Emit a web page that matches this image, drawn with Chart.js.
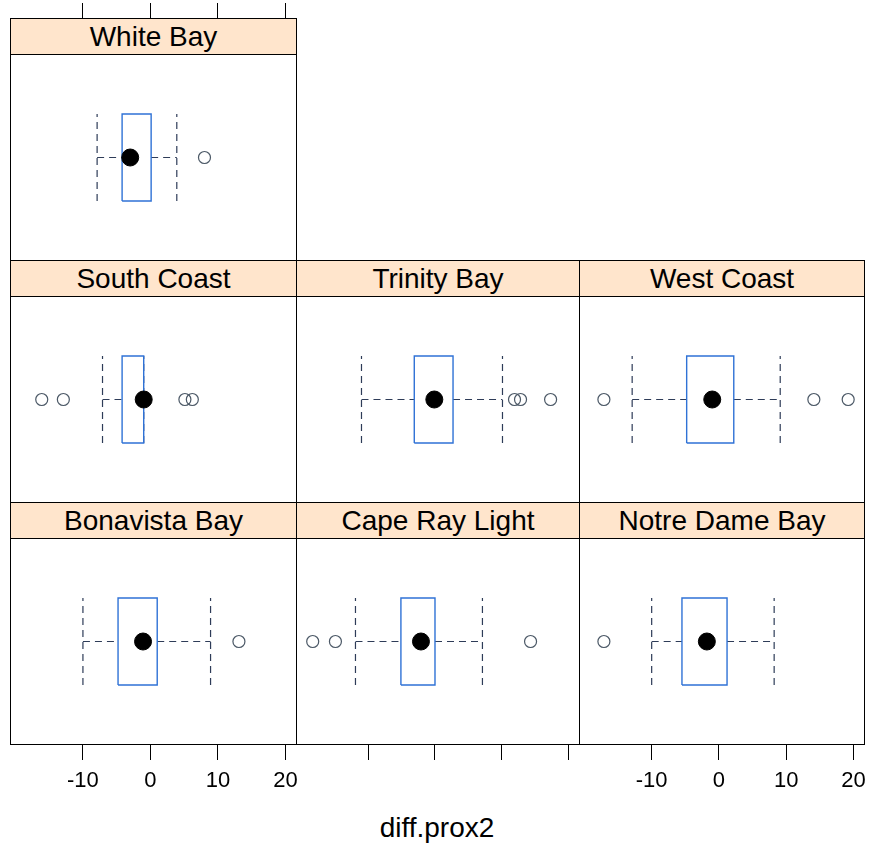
<!DOCTYPE html>
<html>
<head>
<meta charset="utf-8">
<script src="https://cdn.jsdelivr.net/npm/chart.js@4.4.1/dist/chart.umd.min.js"></script>
<style>
  body { margin: 0; background: #fff; }
  #wrap { position: relative; width: 869px; height: 846px; background: #fff; overflow: hidden; }
  canvas { position: absolute; }
  .strip {
    position: absolute; box-sizing: border-box; border: 1px solid #000;
    background: #ffe5cc; font: 28px "Liberation Sans", Arial, sans-serif;
    color: #000; display: flex; align-items: center; justify-content: center;
    line-height: 1;
  }
  #xlab { position: absolute; left: 0; width: 874px; top: 812px; text-align: center;
    font: 28px "Liberation Sans", Arial, sans-serif; color: #000; }
</style>
</head>
<body>
<div id="wrap"></div>
<script>
// data
const regions = ['White Bay', 'South Coast', 'Trinity Bay', 'West Coast', 'Bonavista Bay', 'Cape Ray Light', 'Notre Dame Bay'];
const whiskerLow  = [-7.9, -7.1, -11.0, -12.9, -10.0, -11.9, -10.0];
const q1          = [-4.2, -4.2,  -3.1,  -4.8,  -4.8,  -5.1,  -5.5];
const medians     = [-3.0, -1.0,  -0.1,  -1.0,  -1.1,  -2.1,  -1.8];
const q3          = [ 0.1, -1.0,   2.7,   2.2,   1.0,   0.0,   1.2];
const whiskerHigh = [ 3.9, -1.0,  10.1,   9.1,   8.9,   7.1,   8.2];
const outliers = [
  [8.0],
  [-16.1, -12.9, 5.1, 6.2],
  [11.9, 12.8, 17.3],
  [-17.1, 14.1, 19.2],
  [13.1],
  [-18.3, -14.9, 14.3],
  [-17.1]
];
const tickValues = [-10, 0, 10, 20];
const xTitle = 'diff.prox2';

// layout (lattice style 3x3 grid)
const X_MIN = -20.8, X_MAX = 21.7;
const colL = [10, 296, 579];
const colR = [296, 579, 864];
const stripTop = [18, 260, 502];
const STRIP_H = 36, PANEL_H = 206, AXIS_H = 58;
const slots = [[0, 0], [1, 0], [1, 1], [1, 2], [2, 0], [2, 1], [2, 2]];
const BOX_LO = 0.29, BOX_HI = 0.71, MID = 0.5;

const BOX_COL = '#2f72d6';
const UMB_COL = '#2e3c58';
const OUT_COL = '#4b5866';

const wrap = document.getElementById('wrap');

const framePlugin = {
  id: 'frame',
  afterDraw(chart) {
    const a = chart.chartArea, c = chart.ctx;
    c.save();
    c.strokeStyle = '#000';
    c.lineWidth = 1;
    c.strokeRect(a.left + 0.5, a.top + 0.5, a.right - a.left - 1, a.bottom - a.top - 1);
    c.restore();
  }
};

function makeCanvas(left, top, w, h) {
  const cv = document.createElement('canvas');
  cv.width = w; cv.height = h;
  cv.style.left = left + 'px'; cv.style.top = top + 'px';
  cv.style.width = w + 'px'; cv.style.height = h + 'px';
  wrap.appendChild(cv);
  return cv;
}

function xScale(opts) {
  return {
    type: 'linear', min: X_MIN, max: X_MAX,
    position: opts.position || 'bottom',
    display: opts.display,
    afterBuildTicks: s => { s.ticks = tickValues.map(v => ({ value: v })); },
    afterFit: s => {
      if (!opts.display) return;
      s.height = opts.height;
      s.paddingLeft = 0; s.paddingRight = 0;
    },
    grid: { drawOnChartArea: false, drawTicks: true, tickLength: 15, color: '#000', lineWidth: 1 },
    border: { display: false },
    ticks: {
      display: !!opts.labels, color: '#000', padding: 8, maxRotation: 0, autoSkip: false,
      font: { family: '"Liberation Sans", Arial, sans-serif', size: 22 }
    }
  };
}

function seg(x0, y0, x1, y1) {
  return {
    data: [{ x: x0, y: y0 }, { x: x1, y: y1 }],
    showLine: true, borderColor: UMB_COL, borderWidth: 1.2, borderDash: [7, 5],
    pointRadius: 0, fill: false
  };
}

regions.forEach((name, i) => {
  const [r, c] = slots[i];
  const w = colR[c] - colL[c] + 1;
  const top = stripTop[r] + STRIP_H;
  const isBottom = r === 2;
  const h = PANEL_H + 1 + (isBottom ? AXIS_H : 0);

  // strip
  const st = document.createElement('div');
  st.className = 'strip';
  st.style.left = colL[c] + 'px';
  st.style.top = stripTop[r] + 'px';
  st.style.width = w + 'px';
  st.style.height = (STRIP_H + 1) + 'px';
  st.textContent = name;
  wrap.appendChild(st);

  const datasets = [
    { // median dot
      data: [{ x: medians[i], y: MID }],
      pointRadius: 8.5, pointBackgroundColor: '#000', pointBorderColor: '#000', pointBorderWidth: 1
    },
    { // outliers
      data: outliers[i].map(v => ({ x: v, y: MID })),
      pointRadius: 6, pointBackgroundColor: 'rgba(0,0,0,0)', pointBorderColor: OUT_COL, pointBorderWidth: 1.2
    },
    { // box
      data: [
        { x: q1[i], y: BOX_LO }, { x: q3[i], y: BOX_LO }, { x: q3[i], y: BOX_HI },
        { x: q1[i], y: BOX_HI }, { x: q1[i], y: BOX_LO }
      ],
      showLine: true, borderColor: BOX_COL, borderWidth: 1.4, pointRadius: 0, fill: false
    },
    seg(whiskerLow[i], MID, q1[i], MID),
    seg(q3[i], MID, whiskerHigh[i], MID),
    seg(whiskerLow[i], BOX_LO, whiskerLow[i], BOX_HI),
    seg(whiskerHigh[i], BOX_LO, whiskerHigh[i], BOX_HI)
  ];

  const cv = makeCanvas(colL[c], top, w, h);
  new Chart(cv, {
    type: 'scatter',
    data: { datasets },
    options: {
      responsive: false, animation: false, events: [],
      layout: { padding: 0, autoPadding: false },
      plugins: { legend: { display: false }, tooltip: { enabled: false } },
      scales: {
        x: xScale({ display: isBottom, labels: isBottom && c !== 1, height: AXIS_H }),
        y: { display: false, min: 0, max: 1 }
      }
    },
    plugins: [framePlugin]
  });
});

// top axis ticks over the first column (labels cut off in the source)
const topCv = makeCanvas(colL[0], 0, colR[0] - colL[0] + 1, stripTop[0] + 1);
new Chart(topCv, {
  type: 'scatter',
  data: { datasets: [] },
  options: {
    responsive: false, animation: false, events: [],
    layout: { padding: 0, autoPadding: false },
    plugins: { legend: { display: false }, tooltip: { enabled: false } },
    scales: {
      x: xScale({ display: true, labels: false, position: 'top', height: stripTop[0] }),
      y: { display: false, min: 0, max: 1 }
    }
  }
});

const xl = document.createElement('div');
xl.id = 'xlab';
xl.textContent = xTitle;
wrap.appendChild(xl);
</script>
</body>
</html>
